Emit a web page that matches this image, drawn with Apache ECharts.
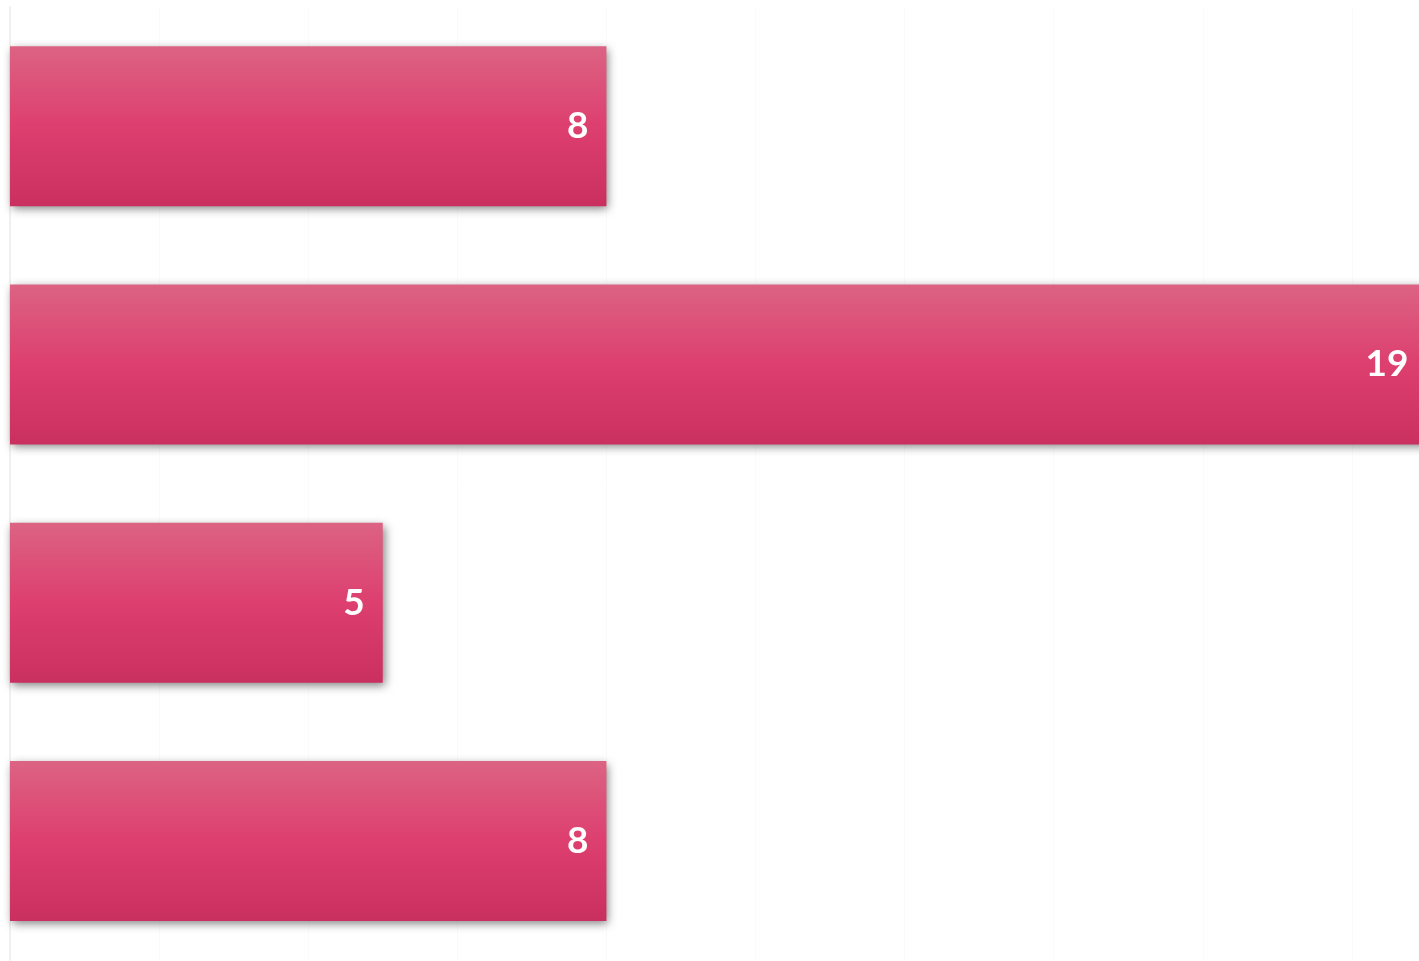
<!DOCTYPE html>
<html>
<head>
<meta charset="utf-8">
<script src="https://cdn.jsdelivr.net/npm/echarts@6/dist/echarts.min.js"></script>
<style>
    html, body { margin: 0; padding: 0; background: #fff; }
    #main { width: 1419px; height: 961px; }
</style>
</head>
<body>
<div id="main"></div>
<script>
// chart data
const categories = ['A', 'B', 'C', 'D'];
const values = [8, 19, 5, 8];

const myChart = echarts.init(document.getElementById('main'));

const option = {
    animation: false,
    grid: { left: 10, right: 0, top: 7, bottom: 1, containLabel: false },
    xAxis: {
        type: 'value',
        min: 0,
        // the longest bar runs slightly past the right edge
        max: 18.9,
        interval: 2,
        axisLabel: { show: false },
        axisLine: { show: false },
        axisTick: { show: false },
        splitLine: { show: true, lineStyle: { color: '#fafafa', width: 1 } }
    },
    yAxis: {
        type: 'category',
        inverse: true,
        data: categories,
        axisLabel: { show: false },
        axisTick: { show: false },
        axisLine: { show: true, lineStyle: { color: '#f0f0f0', width: 2 } }
    },
    series: [{
        type: 'bar',
        data: values,
        barWidth: 160,
        clip: false,
        itemStyle: {
            color: new echarts.graphic.LinearGradient(0, 0, 0, 1, [
                { offset: 0, color: '#dc6383' },
                { offset: 0.5, color: '#dd3f6f' },
                { offset: 1, color: '#ca305f' }
            ]),
            shadowColor: 'rgba(0,0,0,0.5)',
            shadowBlur: 9,
            shadowOffsetX: 2,
            shadowOffsetY: 3
        },
        label: {
            show: true,
            position: 'insideRight',
            distance: 18,
            color: '#ffffff',
            fontFamily: 'Lato',
            fontWeight: 'bold',
            fontSize: 37
        }
    }]
};

myChart.setOption(option);
</script>
</body>
</html>
